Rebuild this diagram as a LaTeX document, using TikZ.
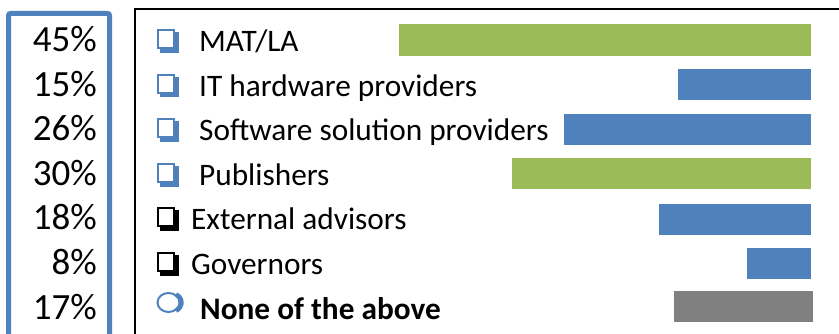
\documentclass[tikz,border=0pt]{standalone}
\usepackage{fontspec}
\setmainfont{Carlito}
\definecolor{cgreen}{HTML}{9BBB59}
\definecolor{cblue}{HTML}{4F81BD}
\definecolor{cgray}{HTML}{808080}
\newcommand\drawchk[2]{%
  \draw[#1,line width=2pt] (157.5,#2) rectangle (174,{#2+18});
  \fill[#1] (174.5,{#2+2}) rectangle (178.8,{#2+22.8});
  \fill[#1] (159.5,{#2+18.5}) rectangle (178.8,{#2+22.8});
}
\begin{document}
\begin{tikzpicture}[x=1pt,y=-1pt,
  pct/.style={anchor=base east,font=\fontsize{37}{37}\selectfont,inner sep=0pt},
  lbl/.style={anchor=base west,font=\fontsize{31.3}{31.3}\selectfont,inner sep=0pt}]
\useasboundingbox (0,0) rectangle (839,334);
\begin{scope}
  \clip (0,0) rectangle (839,334);
  \draw[cblue,line width=5pt,rounded corners=2pt] (8.5,360) -- (8.5,13.5) -- (109.5,13.5) -- (109.5,360);
  \draw[black,line width=2pt] (135,360) -- (135,9.5) -- (860,9.5);
\end{scope}
% percentages
\node[pct] (p1) at (97,51.5) {45\%};
\node[pct] (p2) at (97,96.1) {15\%};
\node[pct] (p3) at (97,140.7) {26\%};
\node[pct] (p4) at (97,185.3) {30\%};
\node[pct] (p5) at (97,229.9) {18\%};
\node[pct] (p6) at (97,274.5) {8\%};
\node[pct] (p7) at (97,319.1) {17\%};
% icons
\drawchk{cblue}{30}
\drawchk{cblue}{74.6}
\drawchk{cblue}{119.2}
\drawchk{cblue}{163.8}
\drawchk{black}{208.4}
\drawchk{black}{253}
\draw[cblue,line width=2pt] (168.5,302.5) ellipse (11 and 9.5);
\draw[cblue,line width=4.5pt] ([shift={(-60:11 and 9.5)}]170.5,302.5) arc[start angle=-60,end angle=60,x radius=11,y radius=9.5];
% labels
\node[lbl] (l1) at (199,51.5) {MAT/LA};
\node[lbl] (l2) at (199,96.1) {IT hardware providers};
\node[lbl] (l3) at (199,140.7) {Software solution providers};
\node[lbl] (l4) at (199,185.3) {Publishers};
\node[lbl] (l5) at (191,229.9) {External advisors};
\node[lbl] (l6) at (191,274.5) {Governors};
\node[lbl,font=\fontsize{31.3}{31.3}\selectfont\bfseries] (l7) at (200,319.1) {None of the above};
% bars
\fill[cgreen] (399,24) rectangle (811,56);
\fill[cblue] (678,69) rectangle (811,100);
\fill[cblue] (564,114) rectangle (811,145);
\fill[cgreen] (512,158) rectangle (811,189);
\fill[cblue] (659,204) rectangle (811,235);
\fill[cblue] (747,248) rectangle (811,279);
\fill[cgray] (674,291) rectangle (813,322);
\end{tikzpicture}
\end{document}
